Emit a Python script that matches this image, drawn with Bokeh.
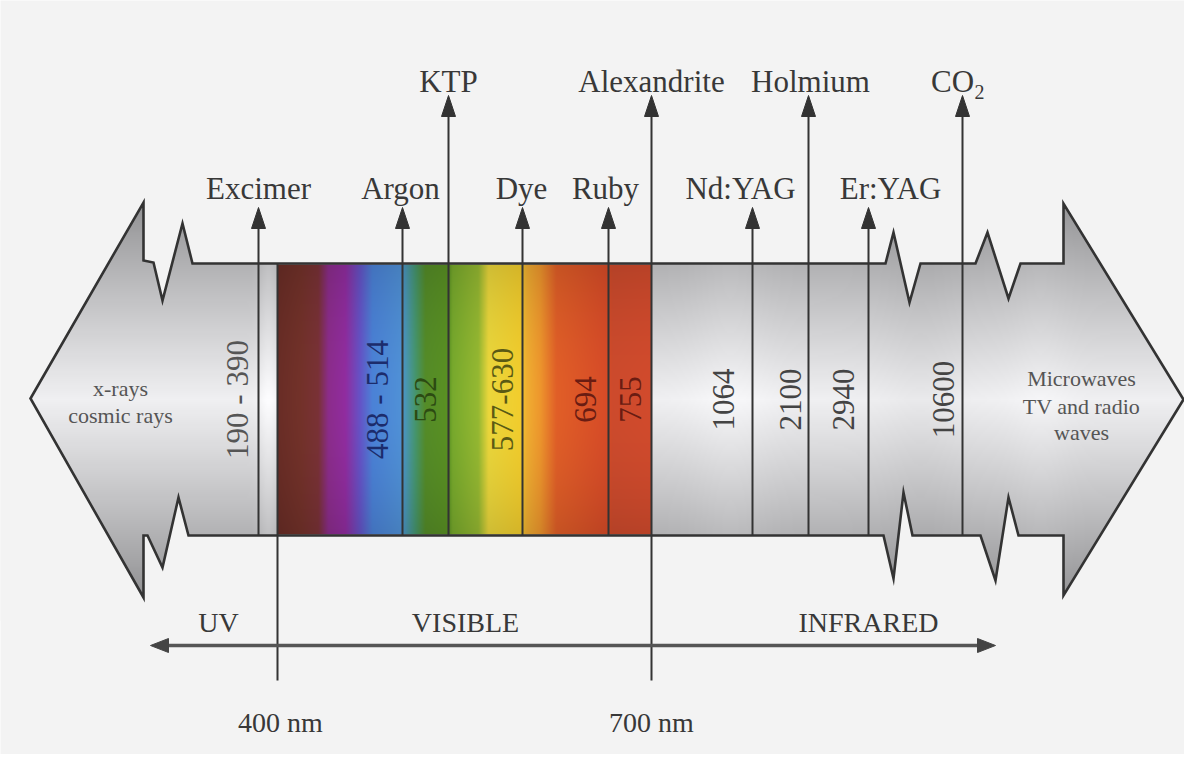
import numpy as np
from bokeh.plotting import figure
from bokeh.models import Range1d
from bokeh.core.properties import value
from bokeh.embed import file_html
from bokeh.resources import INLINE

# ---------------- data ----------------
lasers = ["Excimer", "Argon", "KTP", "Dye", "Ruby", "Alexandrite",
          "Nd:YAG", "Holmium", "Er:YAG", "CO"]
laser_subscript = ["", "", "", "", "", "", "", "", "", "2"]
wavelength_labels = ["190 - 390", "488 - 514", "532", "577-630", "694", "755",
                     "1064", "2100", "2940", "10600"]
arrow_tier = ["low", "low", "high", "low", "low", "high",
              "low", "high", "low", "high"]
regions = ["UV", "VISIBLE", "INFRARED"]
boundaries = ["400 nm", "700 nm"]
left_band_text = ["x-rays", "cosmic rays"]
right_band_text = ["Microwaves", "TV and radio", "waves"]

# ---------------- layout of the schematic (screen pixels) ----------------
W, H = 1184, 754
slot_x = np.array([258, 402, 448, 522, 608, 651, 752, 808, 868, 962])
name_dx = np.array([0, -2, 0, -1, -3, 0, -12, 2, 22, -10])
num_dx = np.array([-21, -25, -23, -20, -23, -21, -29, -18, -25, -19])
num_color = ["#555555", "#1c2c6c", "#2c4a12", "#5a5a14", "#6a1c12", "#6a1c12",
             "#444444", "#444444", "#444444", "#444444"]
region_x = [218, 465, 868]
boundary_x = [277, 651]
band_top, band_bot = 263, 535
tip_y = {"low": 207, "high": 95}
name_base = {"low": 188, "high": 81}

FONT = value("Liberation Serif")
BG = "#f3f3f3"
INK = "#333333"


def Y(py):
    return H - np.asarray(py, dtype=float)


p = figure(width=W, height=H, x_range=Range1d(0, W), y_range=Range1d(0, H),
           output_backend="svg", toolbar_location=None, min_border=0)
p.axis.visible = False
p.grid.visible = False
p.outline_line_color = None
p.background_fill_color = BG
p.border_fill_color = BG

# ---- metallic grey gradient under the spectrum shape ----
gx0, gx1, gy0, gy1, step = 24, 1188, 196, 604, 2
xs_c = gx0 + (np.arange((gx1 - gx0) // step) + 0.5) * step
ys_c = gy0 + (np.arange((gy1 - gy0) // step) + 0.5) * step
XX, YY = np.meshgrid(xs_c, ys_c)
d = np.abs(YY - 399)
g = 240 - 0.42 * d - 0.0003 * d ** 2
g += 14 * np.exp(-((XX - 268) / 9) ** 2)
g += 8 * np.exp(-((XX - 730) / 40) ** 2)
g += 6 * np.exp(-((XX - 1040) / 30) ** 2)
g -= 6 * np.exp(-((XX - 920) / 40) ** 2)
g = np.clip(g, 0, 255).astype(np.uint8)
rgba = np.zeros(g.shape + (4,), dtype=np.uint8)
rgba[..., 0] = g
rgba[..., 1] = g
rgba[..., 2] = np.clip(g.astype(int) + 2, 0, 255)
rgba[..., 3] = 255
img = np.flipud(rgba).copy().view(np.uint32).reshape(g.shape)
p.image_rgba(image=[img], x=gx0, y=float(Y(gy1)), dw=gx1 - gx0, dh=gy1 - gy0)

# ---- visible spectrum colours ----
stops_x = [277, 300, 318, 328, 345, 360, 372, 400, 404, 415, 425, 448, 452,
           478, 488, 520, 526, 540, 556, 608, 612, 651]
stops_rgb = [(105, 45, 38), (115, 50, 42), (122, 50, 55), (140, 45, 140),
             (145, 45, 160), (100, 85, 200), (75, 130, 215), (80, 145, 215),
             (75, 150, 190), (70, 150, 110), (85, 140, 40), (90, 145, 35),
             (120, 170, 45), (150, 185, 50), (235, 215, 60), (242, 205, 45),
             (240, 175, 50), (238, 150, 45), (225, 95, 40), (215, 75, 40),
             (205, 75, 45), (210, 75, 45)]
cx = np.arange(277, 651) + 0.5
cy = np.arange(band_top + 1, band_bot) + 0.5
stops_rgb = np.array(stops_rgb, dtype=float)
cols = np.stack([np.interp(cx, stops_x, stops_rgb[:, k]) for k in range(3)], axis=-1)
shade = 1 - 0.12 * ((cy - 399) / 136) ** 2
crgb = cols[None, :, :] * shade[:, None, None]
crgba = np.zeros((len(cy), len(cx), 4), dtype=np.uint8)
crgba[..., :3] = np.clip(crgb, 0, 255).astype(np.uint8)
crgba[..., 3] = 255
cimg = np.flipud(crgba).copy().view(np.uint32).reshape(len(cy), len(cx))
p.image_rgba(image=[cimg], x=277, y=float(Y(band_bot - 1)), dw=651 - 277,
             dh=band_bot - band_top - 2)

# ---- spectrum outline (double arrow with broken scale marks) ----
shape_px = [30, 143, 143, 153, 162, 182, 192, 885, 893, 909, 920, 975, 987,
            1008, 1020, 1063, 1063, 1183, 1063, 1063, 1018, 1008, 995, 980,
            912, 903, 893, 883, 188, 178, 162, 147, 143, 143]
shape_py = [398, 202, 260, 262, 300, 223, 263, 263, 232, 302, 263, 263, 232,
            298, 263, 263, 203, 399, 595, 535, 535, 497, 580, 535,
            535, 492, 578, 535, 535, 497, 567, 535, 535, 597]
outer_x = [-10, 1200, 1200, -10]
outer_y = list(Y([180, 180, 620, 620]))
p.multi_polygons(xs=[[[outer_x, shape_px]]], ys=[[[outer_y, list(Y(shape_py))]]],
                 fill_color=BG, line_color=None)
p.patch(shape_px + [shape_px[0]], list(Y(shape_py + [shape_py[0]])),
        fill_color=None, line_color=INK, line_width=2.6, line_join="miter")

# ---- laser lines and arrows ----
tips = np.array([tip_y[t] for t in arrow_tier])
line_bottom = np.array([680 if s == "Alexandrite" else band_bot for s in lasers])
p.segment(x0=slot_x, y0=Y(line_bottom), x1=slot_x, y1=Y(tips + 18),
          line_color=INK, line_width=2)
p.segment(x0=[boundary_x[0]], y0=Y([680]), x1=[boundary_x[0]], y1=Y([band_top]),
          line_color=INK, line_width=2)
head_xs = [[x - 7, x, x + 7] for x in slot_x]
head_ys = [list(Y([t + 21, t, t + 21])) for t in tips]
p.patches(head_xs, head_ys, fill_color=INK, line_color=INK, line_width=1)

# ---- laser names ----
nb = np.array([name_base[t] for t in arrow_tier])
p.text(x=slot_x + name_dx, y=Y(nb), text=lasers, text_font=FONT,
       text_font_size="31px", text_color="#383838", text_align="center",
       text_baseline="alphabetic")
sub_i = [i for i, s in enumerate(laser_subscript) if s]
p.text(x=[slot_x[i] + name_dx[i] + 22 for i in sub_i],
       y=Y([nb[i] + 10 for i in sub_i]), text=[laser_subscript[i] for i in sub_i],
       text_font=FONT, text_font_size="20px", text_color="#383838",
       text_align="left", text_baseline="alphabetic")

# ---- wavelengths (rotated) ----
p.text(x=slot_x + num_dx, y=Y(np.full(len(slot_x), 399)), text=wavelength_labels,
       angle=np.pi / 2, text_font=FONT, text_font_size="31px",
       text_color=num_color, text_align="center", text_baseline="middle")

# ---- side texts ----
p.text(x=[120, 120], y=Y([388, 415]), text=left_band_text, text_font=FONT,
       text_font_size="22px", text_color="#555555", text_align="center",
       text_baseline="alphabetic")
p.text(x=[1081, 1081, 1081], y=Y([378, 406, 432]), text=right_band_text,
       text_font=FONT, text_font_size="22px", text_color="#555555",
       text_align="center", text_baseline="alphabetic")

# ---- bottom scale ----
p.segment(x0=[166], y0=Y([645]), x1=[979], y1=Y([645]), line_color="#555555",
          line_width=3.5)
p.patches([[150, 168, 168], [995, 977, 977]],
          [list(Y([645, 638, 652])), list(Y([645, 638, 652]))],
          fill_color="#444444", line_color="#444444", line_width=1)
p.text(x=region_x, y=Y([622, 622, 622]), text=regions, text_font=FONT,
       text_font_size="28px", text_color="#383838", text_align="center",
       text_baseline="alphabetic")
p.text(x=[boundary_x[0] + 3, boundary_x[1]], y=Y([722, 722]), text=boundaries,
       text_font=FONT, text_font_size="28px", text_color="#383838",
       text_align="center", text_baseline="alphabetic")

open("out.html", "w").write(file_html(p, INLINE))
